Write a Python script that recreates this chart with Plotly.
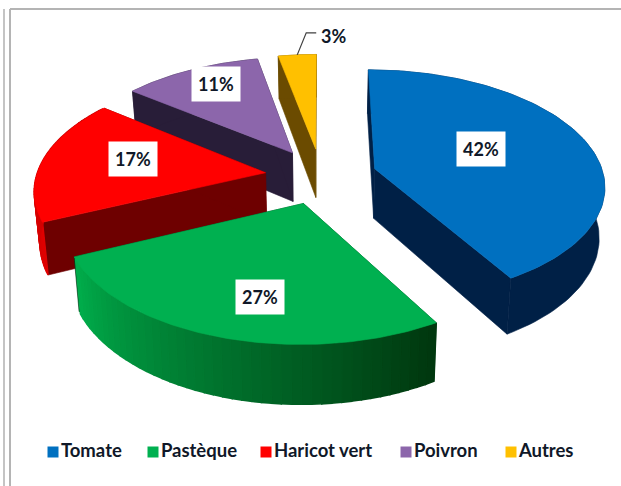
import numpy as np
import plotly.graph_objects as go

# ---- data ----
categories = ["Tomate", "Pastèque", "Haricot vert", "Poivron", "Autres"]
values = [41.6, 26.6, 17.4, 11.3, 3.1]

# ---- style ----
top_colors = ["#0070C0", "#00B050", "#FF0000", "#8C66AB", "#FFC000"]
wall_colors = ["#002046", "#00401A", "#6E0000", "#281D38", "#6B4B00"]
arc_start_colors = ["#002046", "#00380F", "#E00000", "#281D38", "#6B4B00"]
arc_end_colors = ["#002046", "#00AE4C", "#C00000", "#281D38", "#6B4B00"]
label_fraction = [0.47, 0.68, 0.56, 0.62, None]
label_shift = [(6, -6), (12, 7), (-7, -6), (-11, -15), (0, 0)]
legend_x = [53, 153, 266, 406, 511]
draw_order = [4, 3, 2, 1, 0]

WIDTH, HEIGHT = 621, 486
CX, CY = 321.0, 176.0     # screen position of pie centre
RX, RY = 229.0, 114.0     # tilt of the pie
PERSP = 0.134             # perspective strength
EXPLODE = 0.245
DEPTH = 50.0              # thickness
BOTTOM_SHRINK = 0.98
TEXT = "#101828"


def project(u, v, lower=False):
    u, v = np.asarray(u, float), np.asarray(v, float)
    p = 1 / (1 + PERSP * v)
    x = RX * u * p
    y = -RY * v * p
    if lower:
        x = x * BOTTOM_SHRINK
        y = y + DEPTH * p
    return CX + x, CY + y


def hexrgb(h):
    return np.array([int(h[i:i + 2], 16) for i in (1, 3, 5)], float)


def mix(a, b, t):
    c = hexrgb(a) * (1 - t) + hexrgb(b) * t
    return "rgb(%d,%d,%d)" % tuple(c)


def poly(fig, x, y, color, lw=0.6):
    fig.add_trace(go.Scatter(
        x=list(x) + [x[0]], y=list(y) + [y[0]], mode="lines", fill="toself",
        fillcolor=color, line=dict(color=color, width=lw),
        hoverinfo="skip", showlegend=False))


total = sum(values)
edges = np.concatenate([[0], np.cumsum(values)]) / total * 2 * np.pi

fig = go.Figure()
labels = []

for i in draw_order:
    a0, a1 = edges[i], edges[i + 1]
    mid = (a0 + a1) / 2
    au = EXPLODE * np.sin(mid)
    av = EXPLODE * np.cos(mid)
    th = np.linspace(a0, a1, 90)
    us, vs = au + np.sin(th), av + np.cos(th)

    # radial walls
    for a in (a0, a1):
        eu, ev = au + np.sin(a), av + np.cos(a)
        x1, y1 = project([au, eu], [av, ev])
        x2, y2 = project([au, eu], [av, ev], lower=True)
        poly(fig, [x1[0], x1[1], x2[1], x2[0]], [y1[0], y1[1], y2[1], y2[0]], wall_colors[i])

    # outer wall, shaded along the arc when the two end colours differ
    xt, yt = project(us, vs)
    xb, yb = project(us, vs, lower=True)
    if arc_start_colors[i] == arc_end_colors[i]:
        poly(fig, list(xt) + list(xb[::-1]), list(yt) + list(yb[::-1]), arc_start_colors[i])
    else:
        step = 2
        for k in range(0, len(th) - step, step):
            col = mix(arc_start_colors[i], arc_end_colors[i], k / (len(th) - step - 1))
            poly(fig, [xt[k], xt[k + step], xb[k + step], xb[k]],
                 [yt[k], yt[k + step], yb[k + step], yb[k]], col, lw=1.5)

    # top face
    ax, ay = project(au, av)
    poly(fig, [float(ax)] + list(xt), [float(ay)] + list(yt), top_colors[i])

    # label anchor
    f = label_fraction[i]
    share = round(values[i])
    if f is not None:
        lx, ly = project(au + f * np.sin(mid), av + f * np.cos(mid))
        labels.append((float(lx) + label_shift[i][0], float(ly) + label_shift[i][1], share, True))
    else:
        ox, oy = project(au + np.sin(mid), av + np.cos(mid))
        ox, oy = float(ox), float(oy)
        fig.add_trace(go.Scatter(
            x=[ox, ox + 9, ox + 19], y=[oy, oy - 22, oy - 22], mode="lines",
            line=dict(color="#404040", width=1.2), hoverinfo="skip", showlegend=False))
        labels.append((ox + 36, oy - 19, share, False))

# legend row
fig.add_trace(go.Scatter(
    x=legend_x, y=[452] * len(categories), mode="markers+text",
    marker=dict(symbol="square", size=11, color=top_colors),
    text=[f"<b>{c}</b>" for c in categories], textposition="middle right",
    textfont=dict(family="Lato", size=18.5, color=TEXT),
    hoverinfo="text", showlegend=False))

for x, y, v, boxed in labels:
    fig.add_annotation(
        x=x, y=y, text=f"<b>{v}%</b>", showarrow=False,
        font=dict(family="Lato", size=18, color=TEXT),
        bgcolor="white" if boxed else "rgba(0,0,0,0)",
        borderpad=6 if boxed else 0)

frame = "#B4B4B4"
shapes = [
    dict(type="line", x0=10, x1=10, y0=9, y1=486, line=dict(color=frame, width=2)),
    dict(type="line", x0=10, x1=621, y0=9, y1=9, line=dict(color=frame, width=2)),
    dict(type="line", x0=4, x1=4, y0=9, y1=486, line=dict(color="#C4C4C4", width=2)),
]

fig.update_layout(
    width=WIDTH, height=HEIGHT, autosize=False,
    margin=dict(l=0, r=0, t=0, b=0),
    paper_bgcolor="white", plot_bgcolor="white",
    xaxis=dict(range=[0, WIDTH], visible=False, fixedrange=True),
    yaxis=dict(range=[HEIGHT, 0], visible=False, fixedrange=True),
    shapes=shapes,
    showlegend=False,
)

fig.write_html(
    "out.html",
    config={"displayModeBar": False},
    post_script="document.body.style.margin='0';document.body.style.overflow='hidden';",
)
